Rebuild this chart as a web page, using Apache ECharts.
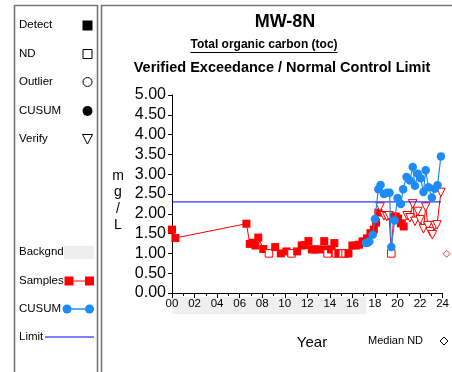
<!DOCTYPE html>
<html><head><meta charset="utf-8">
<script src="https://cdn.jsdelivr.net/npm/echarts@6/dist/echarts.min.js"></script>
<style>html,body{margin:0;padding:0;background:#fff;overflow:hidden}#c{width:452px;height:372px}</style>
</head><body><div id="c"></div><script>
const chartTitle = 'MW-8N';
const chartSubtitle = 'Total organic carbon (toc)';
const chartSubtitle2 = 'Verified Exceedance / Normal Control Limit';
const yAxisName = 'm\ng\n/\nL';
const xAxisName = 'Year';

// Samples (year, value, kind: D = detect, ND = non-detect, V = verify)
const sampleYears = [2000.0,2000.3,2006.6,2006.9,2007.15,2007.4,2007.65,2008.1,2008.6,2009.15,2009.65,2010.15,2010.6,2011.1,2011.5,2011.75,2012.1,2012.4,2012.7,2012.95,2013.5,2013.65,2013.8,2014.1,2014.4,2014.55,2014.75,2015.15,2015.4,2015.65,2016.0,2016.3,2016.6,2016.9,2017.05,2017.3,2017.6,2017.9,2018.1,2018.3,2018.45,2018.8,2019.05,2019.25,2019.45,2019.65,2019.85,2020.05,2020.3,2020.55,2020.85,2021.1,2021.35,2021.55,2021.8,2022.0,2022.3,2022.5,2022.7,2022.9,2023.1,2023.3,2023.5,2023.85];
const sampleValues = [1.60,1.39,1.75,1.24,1.27,1.20,1.40,1.11,1.00,1.16,1.00,1.05,1.00,1.05,1.20,1.21,1.31,1.10,1.10,1.10,1.31,1.10,1.00,1.10,1.26,1.00,1.00,1.00,1.00,1.00,1.20,1.20,1.22,1.30,1.30,1.38,1.51,1.60,1.78,2.03,2.17,1.95,1.93,1.95,1.00,1.93,1.93,1.88,1.76,1.68,1.95,1.90,2.25,1.81,2.06,1.85,1.62,2.17,1.70,1.55,1.47,1.70,1.72,2.54];
const sampleKinds = ['D','D','D','D','D','D','D','D','ND','D','D','D','ND','D','D','D','D','D','D','D','D','D','ND','D','D','ND','D','ND','ND','D','D','D','D','D','D','D','D','D','D','D','V','V','V','V','ND','D','D','D','D','D','V','V','V','V','V','V','V','V','V','V','V','V','V','V'];

// CUSUM
const cusumYears = [2017.2,2017.35,2017.5,2017.8,2018.0,2018.3,2018.5,2018.8,2019.05,2019.3,2019.45,2019.75,2020.0,2020.3,2020.5,2020.8,2021.1,2021.35,2021.55,2021.8,2022.05,2022.3,2022.5,2022.75,2023.05,2023.3,2023.55,2023.85];
const cusumValues = [1.26,1.27,1.30,1.47,1.87,2.62,2.73,2.50,2.53,2.53,1.16,1.83,2.40,2.25,2.62,2.93,2.84,3.18,2.71,3.01,2.90,2.55,3.10,2.67,2.41,2.63,2.72,3.45];

// Limit
const limitYears = [2000.0, 2023.85];
const limitValue = 2.30;
// Background period
const backgroundYears = [2000.0, 2017.25];
// Median ND
const medianNDYear = [2024.35];
const medianNDValue = [0.99];

const xMin = 2000, xMax = 2024, xInterval = 2;
const yMin = 0, yMax = 5, yInterval = 0.5;

const legendTop = ['Detect','ND','Outlier','CUSUM','Verify'];
const legendBottom = ['Backgnd','Samples','CUSUM','Limit'];

const FONT = '"Liberation Sans", Arial, sans-serif';
const RED = '#ff0000', BLUE = '#1e8cf5', LIMIT = '#0000ff';

function textWidth(t, font) {
  const c = document.createElement('canvas').getContext('2d');
  c.font = font; return c.measureText(t).width;
}

const sampleData = sampleYears.map((y, i) => {
  const k = sampleKinds[i];
  const d = { value: [y, sampleValues[i]] };
  if (k === 'ND') { d.symbol = 'rect'; d.itemStyle = { color: '#fff', borderColor: RED, borderWidth: 1 }; d.symbolSize = 7.5; }
  else if (k === 'V') { d.symbol = 'triangle'; d.symbolRotate = 180; d.symbolSize = 8.5; d.itemStyle = { color: '#fff', borderColor: RED, borderWidth: 1 }; }
  return d;
});

const g = [];
// panels
g.push({ type: 'rect', shape: { x: 14.5, y: 5.5, width: 83, height: 400 }, style: { fill: 'none', stroke: '#777', lineWidth: 1.6 }, z: 100 });
g.push({ type: 'rect', shape: { x: 101.5, y: 5.5, width: 400, height: 400 }, style: { fill: 'none', stroke: '#777', lineWidth: 1.6 }, z: 100 });
// legend texts top
const topY = [25, 54, 82, 111, 139];
legendTop.forEach((t, i) => g.push({ type: 'text', x: 19, y: topY[i], style: { text: t, font: '11.5px ' + FONT, fill: '#000', verticalAlign: 'middle' }, z: 100 }));
g.push({ type: 'rect', shape: { x: 82.5, y: 20.5, width: 10, height: 10 }, style: { fill: '#000' }, z: 100 });
g.push({ type: 'rect', shape: { x: 83, y: 49.5, width: 9, height: 9 }, style: { fill: '#fff', stroke: '#000', lineWidth: 1 }, z: 100 });
g.push({ type: 'circle', shape: { cx: 87.5, cy: 82, r: 4.5 }, style: { fill: '#fff', stroke: '#000', lineWidth: 1 }, z: 100 });
g.push({ type: 'circle', shape: { cx: 87.5, cy: 111, r: 5 }, style: { fill: '#000' }, z: 100 });
g.push({ type: 'polygon', shape: { points: [[82.5, 134.5], [92.5, 134.5], [87.5, 144]] }, style: { fill: '#fff', stroke: '#000', lineWidth: 1 }, z: 100 });
// legend bottom
const botY = [252, 281, 309, 337];
legendBottom.forEach((t, i) => g.push({ type: 'text', x: 19, y: botY[i], style: { text: t, font: '11.5px ' + FONT, fill: '#000', verticalAlign: 'middle' }, z: 100 }));
g.push({ type: 'rect', shape: { x: 64, y: 246, width: 30, height: 13 }, style: { fill: '#eeeeee' }, z: 100 });
g.push({ type: 'line', shape: { x1: 69, y1: 281, x2: 89, y2: 281 }, style: { stroke: RED, lineWidth: 1 }, z: 100 });
g.push({ type: 'rect', shape: { x: 64.5, y: 276.5, width: 9, height: 9 }, style: { fill: RED }, z: 100 });
g.push({ type: 'rect', shape: { x: 85, y: 276.5, width: 9, height: 9 }, style: { fill: RED }, z: 100 });
g.push({ type: 'line', shape: { x1: 67, y1: 309, x2: 89, y2: 309 }, style: { stroke: BLUE, lineWidth: 1.5 }, z: 100 });
g.push({ type: 'circle', shape: { cx: 67, cy: 309, r: 4.5 }, style: { fill: BLUE }, z: 100 });
g.push({ type: 'circle', shape: { cx: 89.5, cy: 309, r: 4.5 }, style: { fill: BLUE }, z: 100 });
g.push({ type: 'line', shape: { x1: 45, y1: 337, x2: 94, y2: 337 }, style: { stroke: LIMIT, lineWidth: 1 }, z: 100 });
// titles
g.push({ type: 'text', x: 285, y: 22, style: { text: chartTitle, font: 'bold 18px ' + FONT, fill: '#000', align: 'center', verticalAlign: 'middle' }, z: 100 });
const subFont = 'bold 12px ' + FONT;
const subX = 264, subW = textWidth(chartSubtitle, subFont);
g.push({ type: 'text', x: subX, y: 45, style: { text: chartSubtitle, font: subFont, fill: '#000', align: 'center', verticalAlign: 'middle' }, z: 100 });
g.push({ type: 'line', shape: { x1: subX - subW / 2, y1: 52.5, x2: subX + subW / 2, y2: 52.5 }, style: { stroke: '#000', lineWidth: 1 }, z: 100 });
g.push({ type: 'text', x: 282, y: 68, style: { text: chartSubtitle2, font: 'bold 14.5px ' + FONT, fill: '#000', align: 'center', verticalAlign: 'middle' }, z: 100 });
// y axis name stacked
g.push({ type: 'text', x: 118, y: 200.5, style: { text: yAxisName, font: '14px ' + FONT, fill: '#000', align: 'center', verticalAlign: 'middle', lineHeight: 16.5 }, z: 100 });
// x axis name & median ND
g.push({ type: 'text', x: 312, y: 343, style: { text: xAxisName, font: '15px ' + FONT, fill: '#000', align: 'center', verticalAlign: 'middle' }, z: 100 });
g.push({ type: 'text', x: 368, y: 341, style: { text: 'Median ND', font: '11px ' + FONT, fill: '#000', verticalAlign: 'middle' }, z: 100 });
g.push({ type: 'polygon', shape: { points: [[444, 337], [448, 341], [444, 345], [440, 341]] }, style: { fill: '#fff', stroke: '#000', lineWidth: 1 }, z: 100 });

const option = {
  animation: false,
  backgroundColor: '#fff',
  textStyle: { fontFamily: FONT },
  grid: { left: 172, right: 6, top: 95, bottom: 79 },
  xAxis: {
    type: 'value', min: xMin, max: xMax, interval: xInterval, z: 5,
    axisLine: { lineStyle: { color: '#000', width: 1 } },
    axisTick: { length: 5, lineStyle: { color: '#000' } },
    minorTick: { show: true, splitNumber: 2, length: 3, lineStyle: { color: '#000' } },
    splitLine: { show: false },
    axisLabel: { color: '#000', fontSize: 11.5, margin: 5, fontFamily: FONT, formatter: v => String(Math.round(v) % 100).padStart(2, '0') }
  },
  yAxis: {
    type: 'value', min: yMin, max: yMax, interval: yInterval,
    axisLine: { show: true, lineStyle: { color: '#000', width: 1 } },
    axisTick: { show: true, length: 4, lineStyle: { color: '#000' } },
    splitLine: { show: false },
    axisLabel: { color: '#000', fontSize: 16, margin: 6, fontFamily: FONT, formatter: v => v.toFixed(2) }
  },
  graphic: { elements: g },
  series: [
    { name: 'Samples', type: 'line', data: sampleData, symbol: 'rect', symbolSize: 8, z: 2,
      itemStyle: { color: RED }, lineStyle: { color: RED, width: 1 } },
    { name: 'Limit', type: 'line', data: limitYears.map(y => [y, limitValue]), symbol: 'none', z: 3,
      lineStyle: { color: LIMIT, width: 1 } },
    { name: 'CUSUM', type: 'line', data: cusumYears.map((y, i) => [y, cusumValues[i]]), symbol: 'circle', symbolSize: 8.5, z: 4,
      itemStyle: { color: BLUE }, lineStyle: { color: BLUE, width: 1.2 } },
    { name: 'Median ND', type: 'scatter', data: medianNDYear.map((y, i) => [y, medianNDValue[i]]), symbol: 'diamond', symbolSize: 7, clip: false, z: 4,
      itemStyle: { color: '#fff', borderColor: RED, borderWidth: 1 } }
  ]
};
const chart = echarts.init(document.getElementById('c'), null, { renderer: 'canvas' });
chart.setOption(option);
const p0 = chart.convertToPixel({ gridIndex: 0 }, [backgroundYears[0], 0]);
const p1 = chart.convertToPixel({ gridIndex: 0 }, [backgroundYears[1], 0]);
g.push({ type: 'rect', shape: { x: p0[0], y: p0[1] + 4, width: p1[0] - p0[0], height: 17 }, style: { fill: '#efefef' }, z: -1 });
chart.setOption({ graphic: { elements: g } });
</script></body></html>
